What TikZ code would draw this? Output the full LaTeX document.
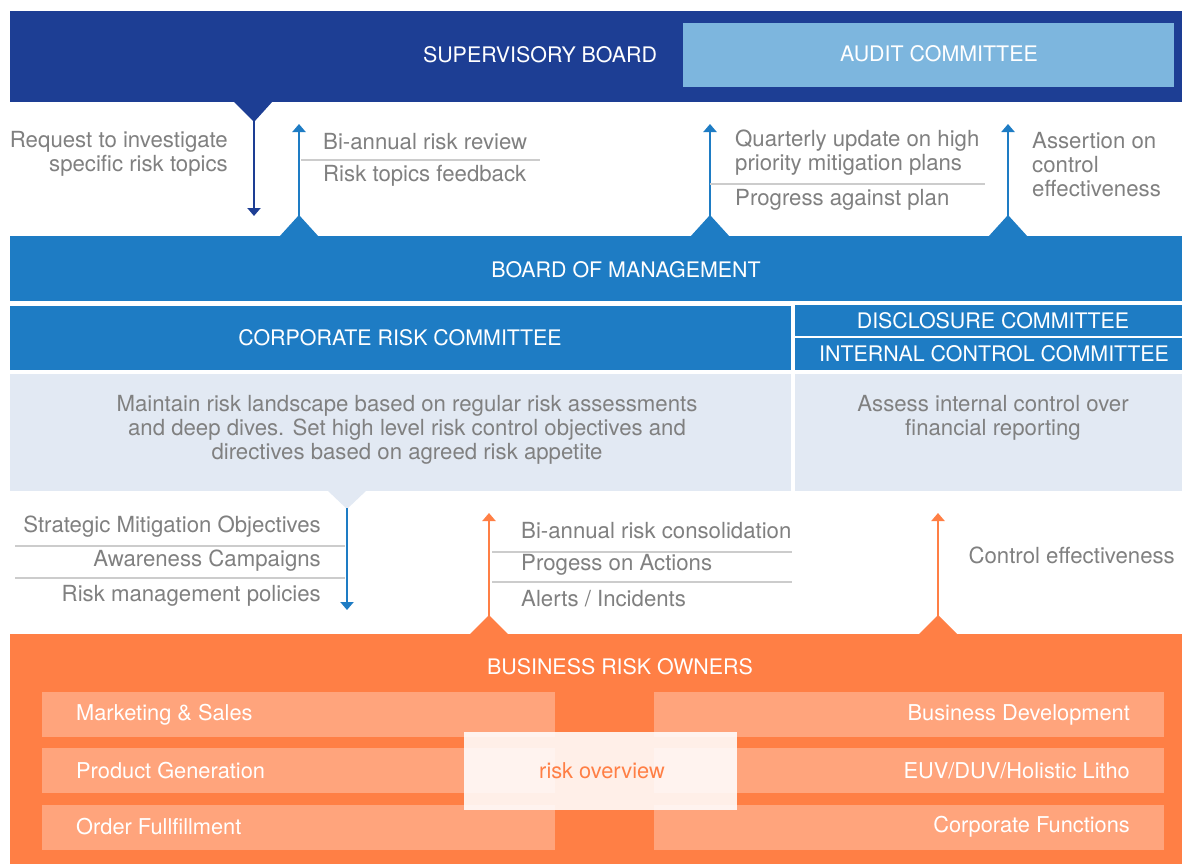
\documentclass[tikz,border=0pt]{standalone}
\usepackage{fontspec}
\setmainfont{TeX Gyre Heros}
\usetikzlibrary{arrows.meta}
\definecolor{navy}{HTML}{1D3E94}
\definecolor{audit}{HTML}{7DB6DE}
\definecolor{mblue}{HTML}{1E7CC4}
\definecolor{lightbox}{HTML}{E2E9F3}
\definecolor{orng}{HTML}{FF7F45}
\definecolor{lorng}{HTML}{FFA47C}
\definecolor{txtgray}{HTML}{808080}
\definecolor{sepgray}{HTML}{CCCCCC}
\newcommand{\fsg}{\fontsize{22.2}{24}\selectfont}
\newcommand{\fsw}{\fontsize{21.8}{24}\selectfont}
\newcommand{\fsu}{\fontsize{21.4}{24}\selectfont}
\begin{document}
\begin{tikzpicture}[x=1pt,y=-1pt,
  box/.style={anchor=north west, inner sep=0pt, outer sep=0pt},
  ttl/.style={text=white, inner sep=0pt, font=\fsu},
  wtx/.style={text=white, inner sep=0pt, font=\fsw},
  lbl/.style={text=txtgray, inner sep=0pt, font=\fsg},
  sepline/.style={draw=sepgray, line width=1.5pt},
  arr/.style={line width=2pt, -{Triangle[width=13pt,length=8pt]}},
  sub/.style={box, fill=lorng, minimum width=513pt, minimum height=45pt},
]
\useasboundingbox (0,0) rectangle (1182,864);
\fill[white] (0,0) rectangle (1182,864);

% Supervisory board
\node[box, fill=navy, minimum width=1172pt, minimum height=91pt] (sb) at (10,11) {};
\node[ttl] (sbt) at (540,55) {SUPERVISORY BOARD};
\node[box, fill=audit, minimum width=491pt, minimum height=64pt] (ac) at (683,23) {};
\node[ttl] (act) at (939,54) {AUDIT COMMITTEE};
\fill[navy] (233,101) -- (273,101) -- (254,122) -- cycle;

% Board of management
\node[box, fill=mblue, minimum width=1172pt, minimum height=65pt] (bom) at (10,236) {};
\node[ttl] (bomt) at (626,270) {BOARD OF MANAGEMENT};
\foreach \cx in {299,710,1008} {
  \fill[mblue] (\cx-20,237) -- (\cx+20,237) -- (\cx,215) -- cycle;
}

% arrows between supervisory board and board of management
\coordinate (a1s) at (254,121); \coordinate (a1e) at (254,216);
\draw[arr, navy] (a1s) -- (a1e);
\coordinate (a2s) at (299,216); \coordinate (a2e) at (299,124);
\draw[arr, mblue] (a2s) -- (a2e);
\coordinate (a3s) at (710,216); \coordinate (a3e) at (710,124);
\draw[arr, mblue] (a3s) -- (a3e);
\coordinate (a4s) at (1008,216); \coordinate (a4e) at (1008,124);
\draw[arr, mblue] (a4s) -- (a4e);

\node[lbl, anchor=east, align=right] (req) at (228,154) {Request to investigate\\specific risk topics};
\node[lbl, anchor=west] (bar) at (323,142) {Bi-annual risk review};
\draw[sepline] (301,160) -- (540,160);
\node[lbl, anchor=west] (rtf) at (323,176) {Risk topics feedback};
\node[lbl, anchor=west, align=left] (qu) at (735,153) {Quarterly update on high\\priority mitigation plans};
\draw[sepline] (710,184) -- (985,184);
\node[lbl, anchor=west] (pap) at (735,200) {Progress against plan};
\node[lbl, anchor=west, align=left] (ass) at (1032,165) {Assertion on\\control\\effectiveness};

% Committees
\node[box, fill=mblue, minimum width=781pt, minimum height=64pt] (crc) at (10,306) {};
\node[ttl] (crct) at (400,338) {CORPORATE RISK COMMITTEE};
\node[box, fill=mblue, minimum width=387pt, minimum height=31pt] (dc) at (795,305) {};
\node[ttl] (dct) at (993,321) {DISCLOSURE COMMITTEE};
\node[box, fill=mblue, minimum width=387pt, minimum height=32pt] (icc) at (795,338) {};
\node[ttl] (icct) at (994,354) {INTERNAL CONTROL COMMITTEE};

\node[box, fill=lightbox, minimum width=781pt, minimum height=117pt] (lb1) at (10,374) {};
\node[lbl, align=center] (lb1t) at (407,430) {Maintain risk landscape based on regular risk assessments\\and deep dives. Set high level risk control objectives and\\directives based on agreed risk appetite};
\node[box, fill=lightbox, minimum width=387pt, minimum height=117pt] (lb2) at (795,374) {};
\node[lbl, align=center] (lb2t) at (993,418) {Assess internal control over\\financial reporting};
\fill[lightbox] (327,490) -- (367,490) -- (347,509) -- cycle;

% arrows between committees and business risk owners
\coordinate (b1s) at (347,508); \coordinate (b1e) at (347,610);
\draw[arr, mblue] (b1s) -- (b1e);
\node[lbl, anchor=east] (smo) at (321,527) {Strategic Mitigation Objectives};
\draw[sepline] (15,546) -- (345,546);
\node[lbl, anchor=east] (awc) at (321,561) {Awareness Campaigns};
\draw[sepline] (15,578) -- (345,578);
\node[lbl, anchor=east] (rmp) at (321,596) {Risk management policies};

% Business risk owners
\node[box, fill=orng, minimum width=1172pt, minimum height=230pt] (bro) at (10,634) {};
\node[ttl] (brot) at (620,667) {BUSINESS RISK OWNERS};
\foreach \cx in {489,938} {
  \fill[orng] (\cx-20,635) -- (\cx+20,635) -- (\cx,615) -- cycle;
}
\coordinate (c1s) at (489,616); \coordinate (c1e) at (489,513);
\draw[arr, orng] (c1s) -- (c1e);
\coordinate (c2s) at (938,616); \coordinate (c2e) at (938,513);
\draw[arr, orng] (c2s) -- (c2e);
\node[lbl, anchor=west] (brc) at (521,531) {Bi-annual risk consolidation};
\draw[sepline] (492,552) -- (792,552);
\node[lbl, anchor=west] (poa) at (521,565) {Progess on Actions};
\draw[sepline] (492,582) -- (792,582);
\node[lbl, anchor=west] (ali) at (521,599) {Alerts / Incidents};
\node[lbl, anchor=east] (ce) at (1175,555) {Control effectiveness};

\node[sub] (ms) at (42,692) {};
\node[wtx, anchor=west] (mst) at (76,715) {Marketing \& Sales};
\node[sub] (pg) at (42,748) {};
\node[wtx, anchor=west] (pgt) at (76,771) {Product Generation};
\node[sub] (of) at (42,805) {};
\node[wtx, anchor=west] (oft) at (76,827) {Order Fullfillment};
\node[sub, minimum width=510pt] (bd) at (654,692) {};
\node[wtx, anchor=east] (bdt) at (1130,715) {Business Development};
\node[sub, minimum width=510pt] (euv) at (654,748) {};
\node[wtx, anchor=east] (euvt) at (1130,771) {EUV/DUV/Holistic Litho};
\node[sub, minimum width=510pt] (cf) at (654,805) {};
\node[wtx, anchor=east] (cft) at (1130,827) {Corporate Functions};

\node[box, fill=white, fill opacity=0.88, minimum width=273pt, minimum height=78pt] (ro) at (464,732) {};
\node[inner sep=0pt, font=\fsw, text=orng] (rot) at (602,771) {risk overview};
\end{tikzpicture}
\end{document}
